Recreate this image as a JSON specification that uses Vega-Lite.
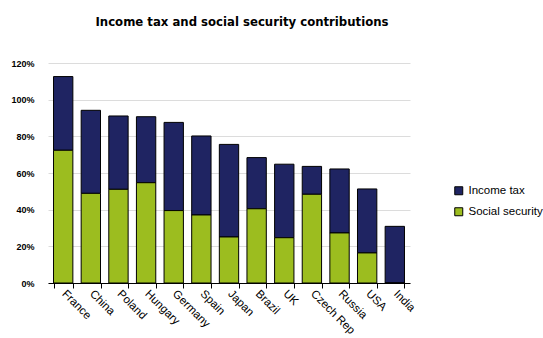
{
  "$schema": "https://vega.github.io/schema/vega-lite/v6.json",
  "autosize": {"type": "none"},
  "width": 362,
  "height": 220,
  "padding": {"left": 48, "top": 63, "right": 133, "bottom": 55},
  "background": "white",
  "view": {"stroke": null},
  "config": {"font": "'Liberation Sans', Arial, sans-serif"},
  "title": {
    "text": "Income tax and social security contributions",
    "font": "'DejaVu Sans Condensed', 'Roboto', sans-serif",
    "fontSize": 13,
    "fontWeight": "bold",
    "color": "#000000",
    "anchor": "middle",
    "dx": 13,
    "offset": 30
  },
  "data": {
    "values": [
      {"country": "France", "type": "Income tax", "value": 40.2, "ord": 2},
      {"country": "France", "type": "Social security", "value": 72.4, "ord": 1},
      {"country": "China", "type": "Income tax", "value": 45.3, "ord": 2},
      {"country": "China", "type": "Social security", "value": 48.9, "ord": 1},
      {"country": "Poland", "type": "Income tax", "value": 40.0, "ord": 2},
      {"country": "Poland", "type": "Social security", "value": 51.1, "ord": 1},
      {"country": "Hungary", "type": "Income tax", "value": 36.0, "ord": 2},
      {"country": "Hungary", "type": "Social security", "value": 54.7, "ord": 1},
      {"country": "Germany", "type": "Income tax", "value": 48.1, "ord": 2},
      {"country": "Germany", "type": "Social security", "value": 39.5, "ord": 1},
      {"country": "Spain", "type": "Income tax", "value": 43.1, "ord": 2},
      {"country": "Spain", "type": "Social security", "value": 37.1, "ord": 1},
      {"country": "Japan", "type": "Income tax", "value": 50.5, "ord": 2},
      {"country": "Japan", "type": "Social security", "value": 25.1, "ord": 1},
      {"country": "Brazil", "type": "Income tax", "value": 27.9, "ord": 2},
      {"country": "Brazil", "type": "Social security", "value": 40.5, "ord": 1},
      {"country": "UK", "type": "Income tax", "value": 40.1, "ord": 2},
      {"country": "UK", "type": "Social security", "value": 24.7, "ord": 1},
      {"country": "Czech Rep", "type": "Income tax", "value": 15.2, "ord": 2},
      {"country": "Czech Rep", "type": "Social security", "value": 48.4, "ord": 1},
      {"country": "Russia", "type": "Income tax", "value": 34.9, "ord": 2},
      {"country": "Russia", "type": "Social security", "value": 27.3, "ord": 1},
      {"country": "USA", "type": "Income tax", "value": 34.9, "ord": 2},
      {"country": "USA", "type": "Social security", "value": 16.4, "ord": 1},
      {"country": "India", "type": "Income tax", "value": 30.9, "ord": 2},
      {"country": "India", "type": "Social security", "value": 0, "ord": 1}
    ]
  },
  "mark": {"type": "bar", "stroke": "#000000", "strokeWidth": 1},
  "encoding": {
    "x": {
      "field": "country",
      "type": "nominal",
      "sort": null,
      "scale": {"paddingInner": 0.3, "paddingOuter": 0.2},
      "axis": {
        "title": null,
        "tickBand": "extent",
        "labelAngle": 45,
        "labelAlign": "left",
        "labelBaseline": "middle",
        "labelFontSize": 11.5,
        "labelFontWeight": "normal",
        "labelColor": "#000000",
        "labelPadding": 4,
        "domainColor": "#000000",
        "tickColor": "#000000",
        "tickSize": 5,
        "grid": false
      }
    },
    "y": {
      "field": "value",
      "type": "quantitative",
      "stack": "zero",
      "scale": {"domain": [0, 120], "nice": false},
      "axis": {
        "title": null,
        "values": [0, 20, 40, 60, 80, 100, 120],
        "labelExpr": "datum.value + '%'",
        "labelFontSize": 9,
        "labelFontWeight": "bold",
        "labelColor": "#000000",
        "labelPadding": 14,
        "domain": false,
        "ticks": false,
        "grid": true,
        "gridColor": "#dcdcdc",
        "gridWidth": 1
      }
    },
    "color": {
      "field": "type",
      "type": "nominal",
      "scale": {"domain": ["Income tax", "Social security"], "range": ["#1f2462", "#9cbd1f"]},
      "legend": {
        "title": null,
        "orient": "none",
        "legendX": 405,
        "legendY": 122,
        "symbolType": "square",
        "symbolSize": 64,
        "symbolStrokeColor": "#000000",
        "symbolStrokeWidth": 1,
        "symbolOpacity": 1,
        "rowPadding": 8,
        "labelFontSize": 11.5,
        "labelFontWeight": "normal",
        "labelColor": "#000000",
        "labelOffset": 4,
        "labelLimit": 200
      }
    },
    "order": {"field": "ord", "type": "quantitative"}
  }
}
